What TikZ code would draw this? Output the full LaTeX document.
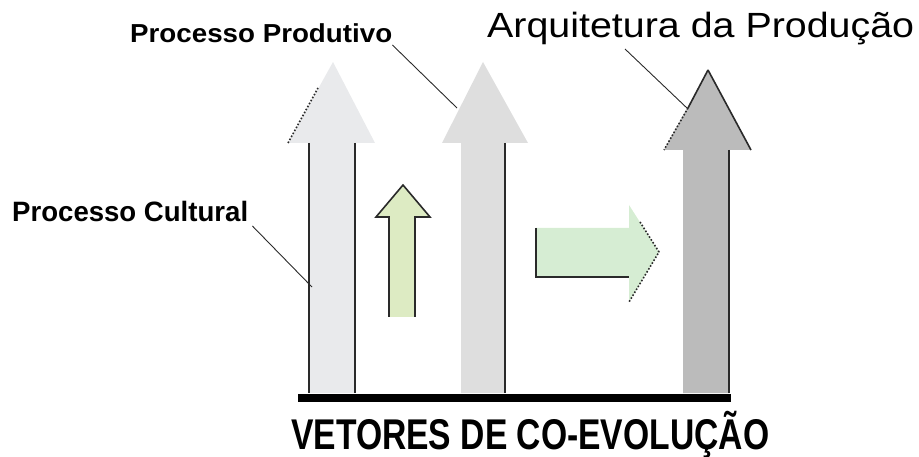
\documentclass[tikz,border=0pt]{standalone}
\usepackage{fontspec}
\setmainfont{Liberation Sans}
\usepackage{graphicx}
\definecolor{cultfill}{HTML}{E9EAEC}
\definecolor{prodfill}{HTML}{DEDEDE}
\definecolor{arqfill}{HTML}{BBBBBB}
\definecolor{upgreen}{HTML}{DDEBC3}
\definecolor{rightgreen}{HTML}{D6EDD3}
\definecolor{edge}{HTML}{2A2A2A}
\begin{document}
\begin{tikzpicture}[x=1pt,y=-1pt,
  edgeline/.style={draw=edge,line width=1.6pt},
  dotline/.style={draw=edge,line width=1.6pt,dash pattern=on 1.6pt off 1.8pt},
  leader/.style={draw=edge,line width=0.9pt},
  lbl/.style={anchor=base west,inner sep=0pt,text=black}]
\useasboundingbox (0,0) rectangle (919,457);

% ---- arrow 1: Processo Cultural
\fill[cultfill] (309,393) -- (309,143) -- (288,143) -- (333,62) -- (375,143) -- (355,143) -- (355,393) -- cycle;
\draw[edgeline] (309,143) -- (309,393);
\draw[edgeline] (355,143) -- (355,393);
\draw[dotline] (288,143) -- (318,88);
\coordinate (cultEnd) at (312,287);

% ---- arrow 2: Processo Produtivo
\fill[prodfill] (461,393) -- (461,143) -- (442,143) -- (483,62) -- (528,143) -- (505,143) -- (505,393) -- cycle;
\draw[edgeline] (505,143) -- (505,393);
\coordinate (prodEnd) at (457,108);

% ---- arrow 3: Arquitetura da Producao
\fill[arqfill] (683,393) -- (683,150) -- (664,150) -- (708,70) -- (751,150) -- (729,150) -- (729,393) -- cycle;
\draw[edgeline] (729,150) -- (729,393);
\draw[edgeline] (708,70) -- (751,150);
\draw[edgeline] (708,70) -- (688,108);
\draw[dotline] (688,108) -- (664,150);
\coordinate (arqEnd) at (688,109);

% ---- small green up arrow
\fill[upgreen] (389,317) -- (389,217) -- (376,217) -- (403,185) -- (430,217) -- (415,217) -- (415,317) -- cycle;
\draw[edgeline,line join=miter] (389,317) -- (389,217) -- (376,217) -- (403,185) -- (430,217) -- (415,217) -- (415,317);

% ---- green right arrow
\fill[rightgreen] (536,228) -- (629,228) -- (629,205) -- (659,252) -- (629,302) -- (629,277) -- (536,277) -- cycle;
\draw[edgeline] (536,228) -- (536,277) -- (629,277);
\draw[dotline] (640,222) -- (659,252) -- (629,302);

% ---- base bar
\fill[black] (298,394) rectangle (731,402);

% ---- labels
\node[lbl] (cult) at (12,222) {\resizebox{236pt}{\height}{\fontsize{28}{28}\selectfont\bfseries Processo Cultural}};
\node[lbl] (prod) at (130,43) {\resizebox{262pt}{\height}{\fontsize{26}{26}\selectfont\bfseries Processo Produtivo}};
\node[lbl] (arq) at (487,38) {\resizebox{427pt}{\height}{\fontsize{35}{35}\selectfont Arquitetura da Produção}};
\node[lbl] (title) at (291,449) {\resizebox{478pt}{\height}{\fontsize{43}{43}\selectfont\bfseries VETORES DE CO-EVOLUÇÃO}};

% ---- leader lines
\draw[leader] ([shift={(4,4)}]cult.base east) -- (cultEnd);
\draw[leader] ([shift={(0,2)}]prod.base east) -- (prodEnd);
\draw[leader] ([shift={(138,11)}]arq.base west) -- (arqEnd);
\end{tikzpicture}
\end{document}
